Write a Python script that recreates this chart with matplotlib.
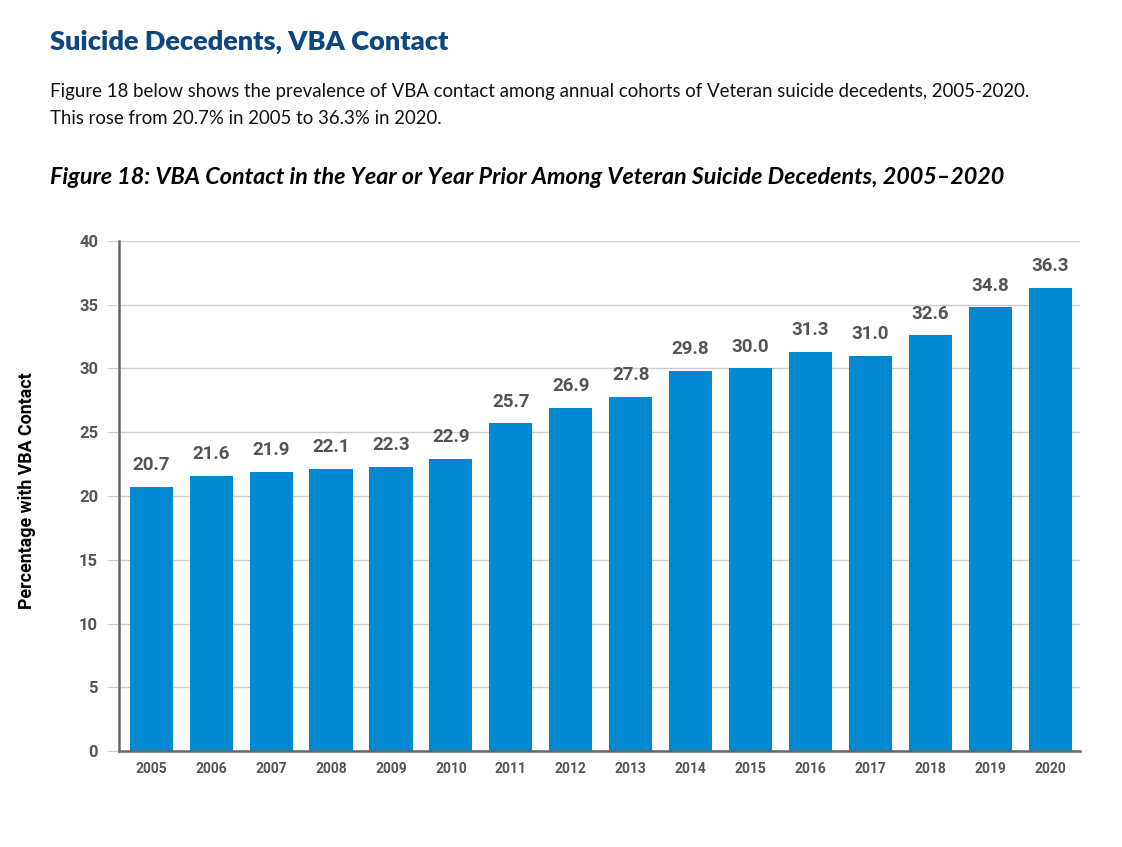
import matplotlib.pyplot as plt
import numpy as np

years = ['2005', '2006', '2007', '2008', '2009', '2010', '2011', '2012',
         '2013', '2014', '2015', '2016', '2017', '2018', '2019', '2020']
pct = [20.7, 21.6, 21.9, 22.1, 22.3, 22.9, 25.7, 26.9,
       27.8, 29.8, 30.0, 31.3, 31.0, 32.6, 34.8, 36.3]
yticks = [0, 5, 10, 15, 20, 25, 30, 35, 40]

narrow = ['DejaVu Sans Condensed', 'Liberation Sans Narrow', 'Roboto', 'DejaVu Sans']
body = ['Lato', 'DejaVu Sans']

fig = plt.figure(figsize=(11.22, 8.47), dpi=100)
ax = fig.add_axes([0.106, 0.1133, 0.8566, 0.6022])

x = np.arange(len(years))
ax.bar(x, pct, width=0.72, color='#0088D1', zorder=3)
for xi, v in zip(x, pct):
    ax.text(xi, v + 1.0, f'{v:.1f}', ha='center', va='bottom',
            fontsize=13.5, fontweight='bold', color='#555555', family=narrow)

ax.set_xlim(-0.54, len(years) - 0.5)
ax.set_ylim(0, 40)
ax.set_yticks(yticks)
ax.set_xticks(x)
ax.set_xticklabels(years)
ax.grid(axis='y', color='#cccccc', linewidth=1, zorder=0)
ax.tick_params(axis='y', length=9, color='#cccccc', labelsize=12, labelcolor='#555555', pad=6)
ax.tick_params(axis='x', length=0, labelsize=10, labelcolor='#555555', pad=8)
for lab in ax.get_xticklabels() + ax.get_yticklabels():
    lab.set_family(narrow)
    lab.set_fontweight('bold')
for s in ['top', 'right']:
    ax.spines[s].set_visible(False)
for s in ['left', 'bottom']:
    ax.spines[s].set_color('#666666')
    ax.spines[s].set_linewidth(1.8)
    ax.spines[s].set_zorder(4)

fig.text(27 / 1122, 0.421, 'Percentage with VBA Contact', rotation=90,
         ha='center', va='center', fontsize=12.8, fontweight='bold', family=narrow)

fig.text(50 / 1122, 1 - 42 / 847, 'Suicide Decedents, VBA Contact',
         ha='left', va='center', fontsize=19.5, fontweight='heavy', color='#0E4680', family=body)
fig.text(50 / 1122, 1 - 91 / 847,
         'Figure 18 below shows the prevalence of VBA contact among annual cohorts of Veteran suicide decedents, 2005-2020.',
         ha='left', va='center', fontsize=13.4, color='#111111', family=body)
fig.text(50 / 1122, 1 - 118 / 847, 'This rose from 20.7% in 2005 to 36.3% in 2020.',
         ha='left', va='center', fontsize=13.4, color='#111111', family=body)
fig.text(50 / 1122, 1 - 178 / 847,
         'Figure 18: VBA Contact in the Year or Year Prior Among Veteran Suicide Decedents, 2005\u20132020',
         ha='left', va='center', fontsize=16.8, fontweight='bold', style='italic', color='black', family=body)

fig.savefig('out.png', dpi=100)
